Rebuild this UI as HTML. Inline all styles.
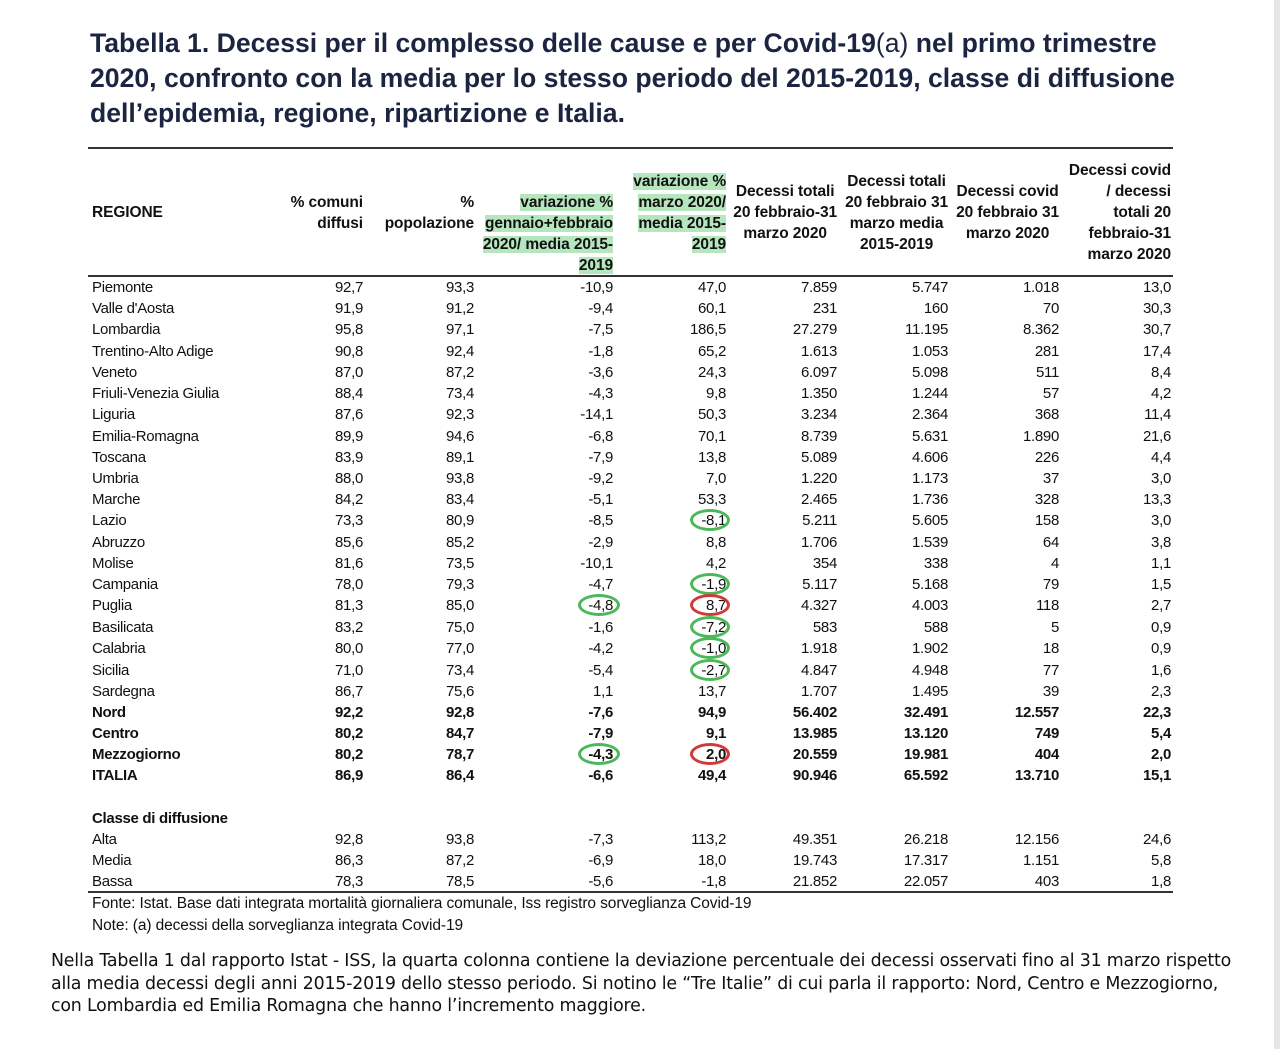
<!DOCTYPE html>
<html><head><meta charset="utf-8"><style>
body{margin:0;width:1280px;height:1049px;background:#fff;position:relative;overflow:hidden;font-family:"Liberation Sans",Arial,sans-serif;color:#111}
.t{position:absolute;left:90px;font-size:26.6px;font-weight:bold;color:#1b2440;line-height:35px;letter-spacing:0px}
.r{position:absolute;left:0;width:1280px;height:21px;font-size:15px;line-height:21px;letter-spacing:-0.3px}
.r span{position:absolute;top:0;white-space:nowrap}
.r .n{left:92px}
.r .c1{right:917px}.r .c2{right:806px}.r .c3{right:667px}.r .c4{right:554px}.r .c5{right:443px}.r .c6{right:332px}.r .c7{right:221px}.r .c8{right:109px}
.b{font-weight:bold}
.h{position:absolute;font-size:15.5px;font-weight:bold;line-height:21px;text-align:right;letter-spacing:-0.1px;white-space:nowrap}
.g{background:#b5e6be}
.line{position:absolute;left:88px;width:1085px;background:#333}
.o{position:absolute;border:3px solid #4cb85a;border-radius:50%;width:32px;height:16px}
.o.red{border-color:#d23a3a}
.cap{position:absolute;left:51px;font-family:"DejaVu Sans",sans-serif;font-size:17.4px;line-height:22.5px;color:#111;letter-spacing:-0.2px;white-space:nowrap}
.f{position:absolute;left:92px;font-size:15.5px;line-height:21px;letter-spacing:-0.1px}
</style></head><body>
<div style="position:absolute;right:0;top:0;width:6px;height:1049px;background:#e6e6e8"></div>
<div class="t" style="top:26px">Tabella 1. Decessi per il complesso delle cause e per Covid-19<span style="font-weight:normal">(a)</span> nel primo trimestre</div>
<div class="t" style="top:61px">2020, confronto con la media per lo stesso periodo del 2015-2019, classe di diffusione</div>
<div class="t" style="top:96px">dell’epidemia, regione, ripartizione e Italia.</div>
<div class="line" style="top:147px;height:2px"></div>
<div class="line" style="top:275px;height:2px"></div>
<div class="line" style="top:891px;height:1.5px"></div>

<div class="h" style="left:92px;top:202px">REGIONE</div>
<div class="h" style="right:917px;top:192px">% comuni<br>diffusi</div>
<div class="h" style="right:806px;top:192px">%<br>popolazione</div>
<div class="h" style="right:667px;top:192px"><span class="g">variazione %</span><br><span class="g">gennaio+febbraio</span><br><span class="g">2020/ media 2015-</span><br><span class="g">2019</span></div>
<div class="h" style="right:554px;top:171px"><span class="g">variazione %</span><br><span class="g">marzo 2020/</span><br><span class="g">media 2015-</span><br><span class="g">2019</span></div>
<div class="h" style="right:443px;top:181px;text-align:center">Decessi totali<br>20 febbraio-31<br>marzo 2020</div>
<div class="h" style="right:332px;top:171px;text-align:center">Decessi totali<br>20 febbraio 31<br>marzo media<br>2015-2019</div>
<div class="h" style="right:221px;top:181px;text-align:center">Decessi covid<br>20 febbraio 31<br>marzo 2020</div>
<div class="h" style="right:109px;top:160px">Decessi covid<br>/ decessi<br>totali 20<br>febbraio-31<br>marzo 2020</div>

<div class="r" style="top:277px"><span class="n">Piemonte</span><span class="c1">92,7</span><span class="c2">93,3</span><span class="c3">-10,9</span><span class="c4">47,0</span><span class="c5">7.859</span><span class="c6">5.747</span><span class="c7">1.018</span><span class="c8">13,0</span></div>
<div class="r" style="top:298px"><span class="n">Valle d'Aosta</span><span class="c1">91,9</span><span class="c2">91,2</span><span class="c3">-9,4</span><span class="c4">60,1</span><span class="c5">231</span><span class="c6">160</span><span class="c7">70</span><span class="c8">30,3</span></div>
<div class="r" style="top:319px"><span class="n">Lombardia</span><span class="c1">95,8</span><span class="c2">97,1</span><span class="c3">-7,5</span><span class="c4">186,5</span><span class="c5">27.279</span><span class="c6">11.195</span><span class="c7">8.362</span><span class="c8">30,7</span></div>
<div class="r" style="top:341px"><span class="n">Trentino-Alto Adige</span><span class="c1">90,8</span><span class="c2">92,4</span><span class="c3">-1,8</span><span class="c4">65,2</span><span class="c5">1.613</span><span class="c6">1.053</span><span class="c7">281</span><span class="c8">17,4</span></div>
<div class="r" style="top:362px"><span class="n">Veneto</span><span class="c1">87,0</span><span class="c2">87,2</span><span class="c3">-3,6</span><span class="c4">24,3</span><span class="c5">6.097</span><span class="c6">5.098</span><span class="c7">511</span><span class="c8">8,4</span></div>
<div class="r" style="top:383px"><span class="n">Friuli-Venezia Giulia</span><span class="c1">88,4</span><span class="c2">73,4</span><span class="c3">-4,3</span><span class="c4">9,8</span><span class="c5">1.350</span><span class="c6">1.244</span><span class="c7">57</span><span class="c8">4,2</span></div>
<div class="r" style="top:404px"><span class="n">Liguria</span><span class="c1">87,6</span><span class="c2">92,3</span><span class="c3">-14,1</span><span class="c4">50,3</span><span class="c5">3.234</span><span class="c6">2.364</span><span class="c7">368</span><span class="c8">11,4</span></div>
<div class="r" style="top:426px"><span class="n">Emilia-Romagna</span><span class="c1">89,9</span><span class="c2">94,6</span><span class="c3">-6,8</span><span class="c4">70,1</span><span class="c5">8.739</span><span class="c6">5.631</span><span class="c7">1.890</span><span class="c8">21,6</span></div>
<div class="r" style="top:447px"><span class="n">Toscana</span><span class="c1">83,9</span><span class="c2">89,1</span><span class="c3">-7,9</span><span class="c4">13,8</span><span class="c5">5.089</span><span class="c6">4.606</span><span class="c7">226</span><span class="c8">4,4</span></div>
<div class="r" style="top:468px"><span class="n">Umbria</span><span class="c1">88,0</span><span class="c2">93,8</span><span class="c3">-9,2</span><span class="c4">7,0</span><span class="c5">1.220</span><span class="c6">1.173</span><span class="c7">37</span><span class="c8">3,0</span></div>
<div class="r" style="top:489px"><span class="n">Marche</span><span class="c1">84,2</span><span class="c2">83,4</span><span class="c3">-5,1</span><span class="c4">53,3</span><span class="c5">2.465</span><span class="c6">1.736</span><span class="c7">328</span><span class="c8">13,3</span></div>
<div class="r" style="top:510px"><span class="n">Lazio</span><span class="c1">73,3</span><span class="c2">80,9</span><span class="c3">-8,5</span><span class="c4">-8,1</span><span class="c5">5.211</span><span class="c6">5.605</span><span class="c7">158</span><span class="c8">3,0</span></div>
<div class="r" style="top:532px"><span class="n">Abruzzo</span><span class="c1">85,6</span><span class="c2">85,2</span><span class="c3">-2,9</span><span class="c4">8,8</span><span class="c5">1.706</span><span class="c6">1.539</span><span class="c7">64</span><span class="c8">3,8</span></div>
<div class="r" style="top:553px"><span class="n">Molise</span><span class="c1">81,6</span><span class="c2">73,5</span><span class="c3">-10,1</span><span class="c4">4,2</span><span class="c5">354</span><span class="c6">338</span><span class="c7">4</span><span class="c8">1,1</span></div>
<div class="r" style="top:574px"><span class="n">Campania</span><span class="c1">78,0</span><span class="c2">79,3</span><span class="c3">-4,7</span><span class="c4">-1,9</span><span class="c5">5.117</span><span class="c6">5.168</span><span class="c7">79</span><span class="c8">1,5</span></div>
<div class="r" style="top:595px"><span class="n">Puglia</span><span class="c1">81,3</span><span class="c2">85,0</span><span class="c3">-4,8</span><span class="c4">8,7</span><span class="c5">4.327</span><span class="c6">4.003</span><span class="c7">118</span><span class="c8">2,7</span></div>
<div class="r" style="top:617px"><span class="n">Basilicata</span><span class="c1">83,2</span><span class="c2">75,0</span><span class="c3">-1,6</span><span class="c4">-7,2</span><span class="c5">583</span><span class="c6">588</span><span class="c7">5</span><span class="c8">0,9</span></div>
<div class="r" style="top:638px"><span class="n">Calabria</span><span class="c1">80,0</span><span class="c2">77,0</span><span class="c3">-4,2</span><span class="c4">-1,0</span><span class="c5">1.918</span><span class="c6">1.902</span><span class="c7">18</span><span class="c8">0,9</span></div>
<div class="r" style="top:660px"><span class="n">Sicilia</span><span class="c1">71,0</span><span class="c2">73,4</span><span class="c3">-5,4</span><span class="c4">-2,7</span><span class="c5">4.847</span><span class="c6">4.948</span><span class="c7">77</span><span class="c8">1,6</span></div>
<div class="r" style="top:681px"><span class="n">Sardegna</span><span class="c1">86,7</span><span class="c2">75,6</span><span class="c3">1,1</span><span class="c4">13,7</span><span class="c5">1.707</span><span class="c6">1.495</span><span class="c7">39</span><span class="c8">2,3</span></div>
<div class="r b" style="top:702px"><span class="n">Nord</span><span class="c1">92,2</span><span class="c2">92,8</span><span class="c3">-7,6</span><span class="c4">94,9</span><span class="c5">56.402</span><span class="c6">32.491</span><span class="c7">12.557</span><span class="c8">22,3</span></div>
<div class="r b" style="top:723px"><span class="n">Centro</span><span class="c1">80,2</span><span class="c2">84,7</span><span class="c3">-7,9</span><span class="c4">9,1</span><span class="c5">13.985</span><span class="c6">13.120</span><span class="c7">749</span><span class="c8">5,4</span></div>
<div class="r b" style="top:744px"><span class="n">Mezzogiorno</span><span class="c1">80,2</span><span class="c2">78,7</span><span class="c3">-4,3</span><span class="c4">2,0</span><span class="c5">20.559</span><span class="c6">19.981</span><span class="c7">404</span><span class="c8">2,0</span></div>
<div class="r b" style="top:765px"><span class="n">ITALIA</span><span class="c1">86,9</span><span class="c2">86,4</span><span class="c3">-6,6</span><span class="c4">49,4</span><span class="c5">90.946</span><span class="c6">65.592</span><span class="c7">13.710</span><span class="c8">15,1</span></div>
<div class="r b" style="top:808px"><span class="n">Classe di diffusione</span></div>
<div class="r" style="top:829px"><span class="n">Alta</span><span class="c1">92,8</span><span class="c2">93,8</span><span class="c3">-7,3</span><span class="c4">113,2</span><span class="c5">49.351</span><span class="c6">26.218</span><span class="c7">12.156</span><span class="c8">24,6</span></div>
<div class="r" style="top:850px"><span class="n">Media</span><span class="c1">86,3</span><span class="c2">87,2</span><span class="c3">-6,9</span><span class="c4">18,0</span><span class="c5">19.743</span><span class="c6">17.317</span><span class="c7">1.151</span><span class="c8">5,8</span></div>
<div class="r" style="top:871px"><span class="n">Bassa</span><span class="c1">78,3</span><span class="c2">78,5</span><span class="c3">-5,6</span><span class="c4">-1,8</span><span class="c5">21.852</span><span class="c6">22.057</span><span class="c7">403</span><span class="c8">1,8</span></div>
<div class="f" style="top:893px">Fonte: Istat. Base dati integrata mortalità giornaliera comunale, Iss registro sorveglianza Covid-19</div>
<div class="f" style="top:915px">Note: (a) decessi della sorveglianza integrata Covid-19</div>

<div class="o" style="left:690px;top:509px;width:34px"></div>
<div class="o" style="left:690px;top:573px;width:34px"></div>
<div class="o red" style="left:690px;top:594px;width:34px"></div>
<div class="o" style="left:690px;top:616px;width:34px"></div>
<div class="o" style="left:690px;top:637px;width:34px"></div>
<div class="o" style="left:690px;top:659px;width:34px"></div>
<div class="o red" style="left:690px;top:743px;width:34px"></div>
<div class="o" style="left:578px;top:594px;width:36px"></div>
<div class="o" style="left:578px;top:743px;width:36px"></div>

<div class="cap" style="top:950px">Nella Tabella 1 dal rapporto Istat - ISS, la quarta colonna contiene la deviazione percentuale dei decessi osservati fino al 31 marzo rispetto</div>
<div class="cap" style="top:973px">alla media decessi degli anni 2015-2019 dello stesso periodo. Si notino le “Tre Italie” di cui parla il rapporto: Nord, Centro e Mezzogiorno,</div>
<div class="cap" style="top:995px">con Lombardia ed Emilia Romagna che hanno l’incremento maggiore.</div>
</body></html>
